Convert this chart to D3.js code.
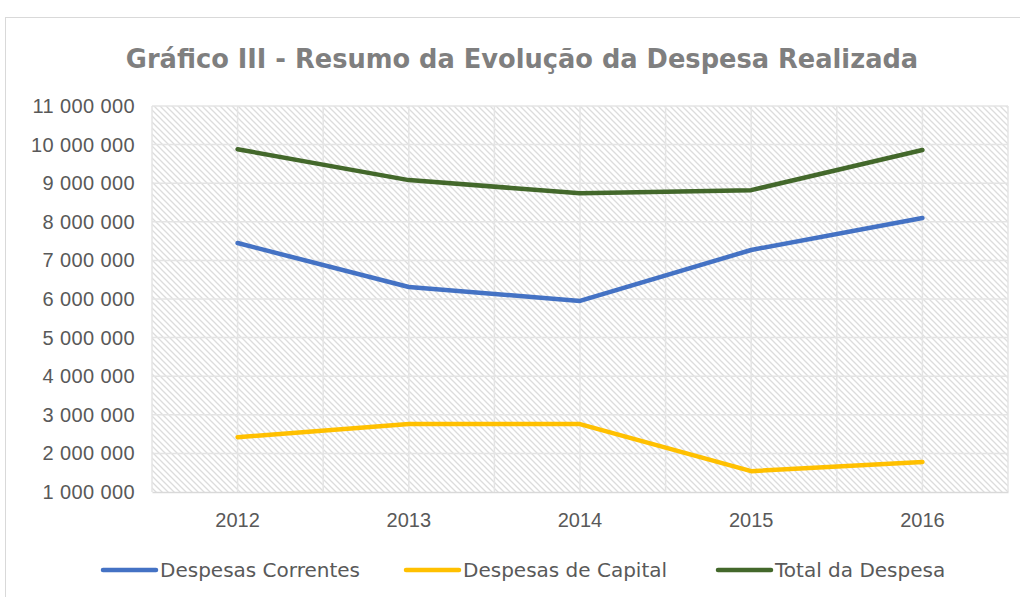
<!DOCTYPE html>
<html><head><meta charset="utf-8">
<script src="https://cdn.jsdelivr.net/npm/d3@7"></script>
<style>
body{margin:0;background:#fff;}
svg{display:block;font-family:"DejaVu Sans",sans-serif;}
</style></head>
<body>
<svg id="c" width="1020" height="597"></svg>
<script>
const years = ["2012","2013","2014","2015","2016"];
const correntes = [7450000, 6310000, 5950000, 7270000, 8100000];
const capital = [2420000, 2760000, 2760000, 1540000, 1780000];
const total = [9880000, 9080000, 8740000, 8820000, 9860000];
const seriesNames = ["Despesas Correntes","Despesas de Capital","Total da Despesa"];
const seriesColors = ["#4472c4","#ffc000","#43682b"];
const yTicks = [1000000,2000000,3000000,4000000,5000000,6000000,7000000,8000000,9000000,10000000,11000000];
const series = [correntes, capital, total];

const svg = d3.select("#c");
const defs = svg.append("defs");
const pat = defs.append("pattern").attr("id","hatch").attr("patternUnits","userSpaceOnUse")
  .attr("width",6).attr("height",6);
pat.append("rect").attr("width",6).attr("height",6).attr("fill","#fff");
pat.append("path").attr("d","M-1,-1 L7,7 M-4,2 L2,8 M2,-4 L8,2").attr("stroke","#dcdcdc").attr("stroke-width",1.3);

// outer border
svg.append("rect").attr("x",5.5).attr("y",17.5).attr("width",1030).attr("height",600)
  .attr("fill","none").attr("stroke","#d9d9d9").attr("stroke-width",1);

const m = {l:152, r:1008, t:106, b:492};
const x = d3.scaleBand().domain(years).range([m.l, m.r]);
const y = d3.scaleLinear().domain([1000000, 11000000]).range([m.b, m.t]);

svg.append("rect").attr("x",m.l).attr("y",m.t).attr("width",m.r-m.l).attr("height",m.b-m.t).attr("fill","url(#hatch)");

// horizontal grid
svg.append("g").selectAll("line").data(yTicks.slice(1)).join("line")
  .attr("x1",m.l).attr("x2",m.r).attr("y1",d=>y(d)).attr("y2",d=>y(d))
  .attr("stroke","#e4e4e4").attr("stroke-width",1.5);
// vertical grid (category centers and boundaries)
const vx = [];
years.forEach(yr=>{vx.push(x(yr)); vx.push(x(yr)+x.bandwidth()/2);});
vx.push(m.r);
svg.append("g").selectAll("line").data(vx).join("line")
  .attr("x1",d=>d).attr("x2",d=>d).attr("y1",m.t).attr("y2",m.b)
  .attr("stroke","#e4e4e4").attr("stroke-width",1.5);

// x axis
const xa = svg.append("g").attr("transform",`translate(0,${m.b})`).call(d3.axisBottom(x).tickSize(0).tickPadding(21));
xa.select(".domain").attr("stroke","#d9d9d9").attr("stroke-width",1.5);
xa.selectAll("text").attr("font-size",20).attr("fill","#595959");

// y axis
const ya = svg.append("g").attr("transform",`translate(${m.l},0)`)
  .call(d3.axisLeft(y).tickValues(yTicks).tickSize(0).tickPadding(17)
    .tickFormat(d=>d3.format(",")(d).replace(/,/g," ")));
ya.select(".domain").remove();
ya.selectAll("text").attr("font-size",20).attr("fill","#595959").attr("letter-spacing",0.4);

// lines
const line = d3.line().x((d,i)=>x(years[i])+x.bandwidth()/2).y(d=>y(d));
series.forEach((s,i)=>{
  svg.append("path").datum(s).attr("d",line).attr("fill","none")
    .attr("stroke",seriesColors[i]).attr("stroke-width",4.5).attr("stroke-linecap","round").attr("stroke-linejoin","round");
});

// title
svg.append("text").attr("x",522).attr("y",68).attr("text-anchor","middle")
  .attr("font-size",25.7).attr("font-weight","bold").attr("fill","#7f7f7f")
  .text("Gráfico III - Resumo da Evolução da Despesa Realizada");

// legend
const legX = [103, 406, 718];
seriesNames.forEach((n,i)=>{
  const g = svg.append("g").attr("transform",`translate(${legX[i]},570)`);
  g.append("line").attr("x1",0).attr("x2",53).attr("y1",0).attr("y2",0)
    .attr("stroke",seriesColors[i]).attr("stroke-width",4.5).attr("stroke-linecap","round");
  g.append("text").attr("x",57).attr("y",7).attr("font-size",20).attr("fill","#595959").text(n);
});
</script>
</body></html>
